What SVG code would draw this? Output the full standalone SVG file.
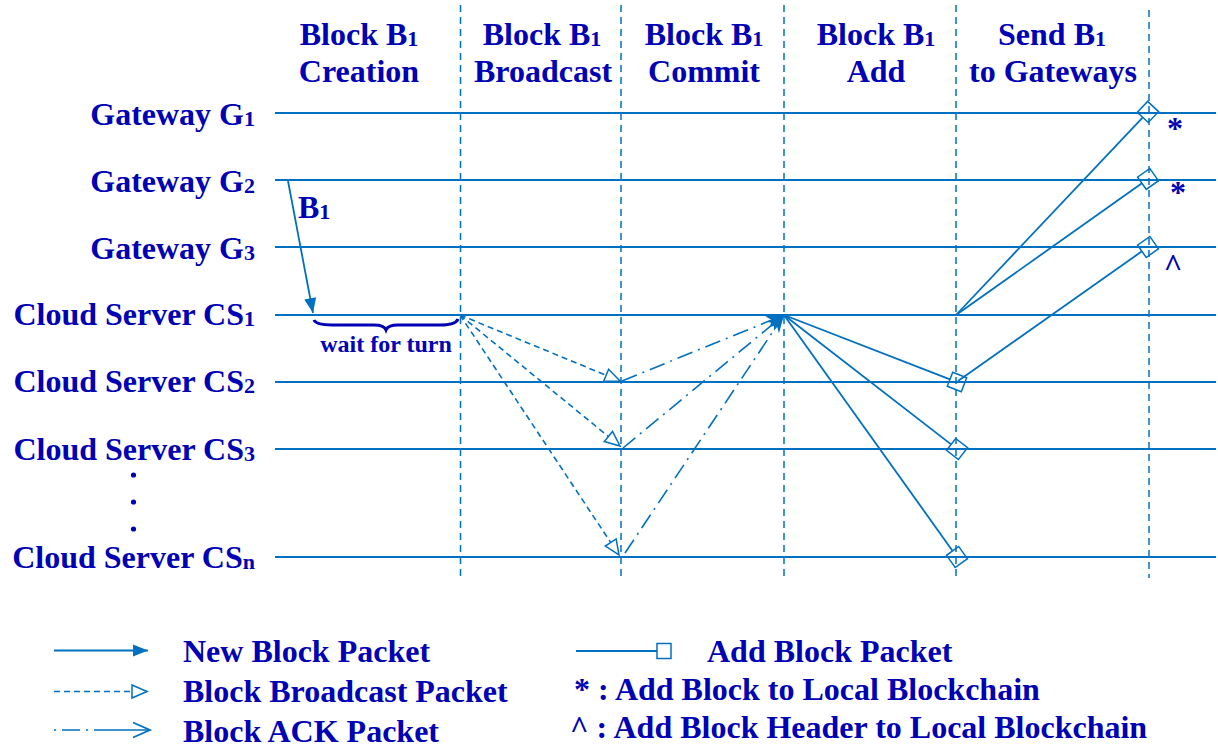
<svg xmlns="http://www.w3.org/2000/svg" width="1218" height="749" viewBox="0 0 1218 749">
<style>
text{font-family:"Liberation Serif","Times New Roman",serif;font-weight:bold;fill:#0000B4;font-size:32px}
.sub{font-size:22px}
.mid{text-anchor:middle}
.end{text-anchor:end}
.life{stroke:#0070C0;stroke-width:2;fill:none}
.phase{stroke:#0070C0;stroke-width:1.5;stroke-dasharray:7 5;fill:none}
.solid{stroke:#0070C0;stroke-width:1.8;fill:none}
.bcast{stroke:#0070C0;stroke-width:1.6;stroke-dasharray:6 4;fill:none}
.ack{stroke:#0070C0;stroke-width:1.6;stroke-dasharray:16 6 2 6;fill:none}
.dot{fill:#0000B4}
</style>
<defs>
<marker id="mNew" markerUnits="userSpaceOnUse" markerWidth="16" markerHeight="14" refX="15" refY="6" orient="auto" overflow="visible">
<path d="M0,0 L15,6 L0,12 z" fill="#0070C0"/>
</marker>
<marker id="mTri" markerUnits="userSpaceOnUse" markerWidth="18" markerHeight="16" refX="16" refY="7" orient="auto" overflow="visible">
<path d="M1,0.5 L16,7 L1,13.5 z" fill="#fff" stroke="#0070C0" stroke-width="1.5"/>
</marker>
<marker id="mAck" markerUnits="userSpaceOnUse" markerWidth="20" markerHeight="14" refX="18" refY="6" orient="auto" overflow="visible">
<path d="M0,0 L18,6 L0,12 L5,6 z" fill="#0070C0"/>
</marker>
<marker id="mAckOpen" markerUnits="userSpaceOnUse" markerWidth="20" markerHeight="18" refX="17" refY="7.5" orient="auto" overflow="visible">
<path d="M0,0 L17,7.5 L0,15" fill="none" stroke="#0070C0" stroke-width="1.8"/>
</marker>
<marker id="mSq" markerUnits="userSpaceOnUse" markerWidth="18" markerHeight="18" refX="0" refY="7.5" orient="auto" overflow="visible">
<path d="M0,0 H15 V15 H0 z" fill="none" stroke="#0070C0" stroke-width="1.5"/>
</marker>
</defs>

<g id="phases">
<line class="phase" x1="460.5" y1="5" x2="460.5" y2="578"/>
<line class="phase" x1="621" y1="5" x2="621" y2="578"/>
<line class="phase" x1="784" y1="5" x2="784" y2="578"/>
<line class="phase" x1="956" y1="5" x2="956" y2="578"/>
<line class="phase" x1="1149" y1="10" x2="1149" y2="578"/>
</g>

<g id="headers">
<text class="mid" x="359" y="45">Block B<tspan class="sub" dy="1">1</tspan></text>
<text class="mid" x="359" y="82">Creation</text>
<text class="mid" x="542" y="45">Block B<tspan class="sub" dy="1">1</tspan></text>
<text class="mid" x="543" y="82">Broadcast</text>
<text class="mid" x="704" y="45">Block B<tspan class="sub" dy="1">1</tspan></text>
<text class="mid" x="704" y="82">Commit</text>
<text class="mid" x="876" y="45">Block B<tspan class="sub" dy="1">1</tspan></text>
<text class="mid" x="876" y="82">Add</text>
<text class="mid" x="1052" y="45">Send B<tspan class="sub" dy="1">1</tspan></text>
<text class="mid" x="1053" y="82">to Gateways</text>
</g>

<g id="node-G1"><line class="life" x1="275" y1="113" x2="1216" y2="113"/><text class="end" x="255" y="125">Gateway G<tspan class="sub" dy="1">1</tspan></text></g>
<g id="node-G2"><line class="life" x1="275" y1="180" x2="1216" y2="180"/><text class="end" x="255" y="192">Gateway G<tspan class="sub" dy="1">2</tspan></text></g>
<g id="node-G3"><line class="life" x1="275" y1="247" x2="1216" y2="247"/><text class="end" x="255" y="259">Gateway G<tspan class="sub" dy="1">3</tspan></text></g>
<g id="node-CS1"><line class="life" x1="275" y1="315" x2="1216" y2="315"/><text class="end" x="255" y="325">Cloud Server CS<tspan class="sub" dy="1">1</tspan></text></g>
<g id="node-CS2"><line class="life" x1="275" y1="382" x2="1216" y2="382"/><text class="end" x="255" y="392">Cloud Server CS<tspan class="sub" dy="1">2</tspan></text></g>
<g id="node-CS3"><line class="life" x1="275" y1="449" x2="1216" y2="449"/><text class="end" x="255" y="460">Cloud Server CS<tspan class="sub" dy="1">3</tspan></text></g>
<g id="dots">
<circle class="dot" cx="133.5" cy="475" r="2.6"/>
<circle class="dot" cx="133.5" cy="502" r="2.6"/>
<circle class="dot" cx="133.5" cy="529" r="2.6"/>
</g>
<g id="node-CSn"><line class="life" x1="275" y1="557" x2="1216" y2="557"/><text class="end" x="255" y="568">Cloud Server CS<tspan class="sub" dy="1">n</tspan></text></g>

<g id="connectors">
<line class="solid" x1="288" y1="181" x2="313" y2="313" marker-end="url(#mNew)"/>
<text x="298" y="218">B<tspan class="sub" dy="1">1</tspan></text>
<path d="M314,320 Q316,325 332,325 L374,325 Q384,325 386,330 Q388,325 398,325 L440,325 Q456,325 458,319" fill="none" stroke="#0000B4" stroke-width="3"/>
<text class="mid" x="386" y="352" style="font-size:24px">wait for turn</text>

<line class="bcast" x1="460" y1="315" x2="620" y2="381" marker-end="url(#mTri)"/>
<line class="bcast" x1="460" y1="315" x2="620" y2="446" marker-end="url(#mTri)"/>
<line class="bcast" x1="460" y1="315" x2="619" y2="555" marker-end="url(#mTri)"/>

<line class="ack" x1="622" y1="381" x2="784" y2="315" marker-end="url(#mAck)"/>
<line class="ack" x1="623" y1="448" x2="784" y2="315" marker-end="url(#mAck)"/>
<line class="ack" x1="625" y1="553" x2="784" y2="315" marker-end="url(#mAck)"/>

<line class="solid" x1="784" y1="315" x2="950" y2="379.3" marker-end="url(#mSq)"/>
<line class="solid" x1="784" y1="315" x2="951.1" y2="444.4" marker-end="url(#mSq)"/>
<line class="solid" x1="784" y1="315" x2="952.6" y2="550.9" marker-end="url(#mSq)"/>

<line class="solid" x1="956" y1="315" x2="1142.8" y2="117.4" marker-end="url(#mSq)"/>
<line class="solid" x1="956" y1="315" x2="1141.9" y2="183.3" marker-end="url(#mSq)"/>
<line class="solid" x1="958" y1="381" x2="1141.9" y2="251.3" marker-end="url(#mSq)"/>

<text class="mid" x="1175" y="139">*</text>
<text class="mid" x="1178" y="203">*</text>
<text class="mid" x="1173" y="276">^</text>
</g>

<g id="legend">
<line class="solid" x1="54" y1="650.5" x2="148" y2="650.5" marker-end="url(#mNew)"/>
<text x="183" y="662">New Block Packet</text>
<line class="bcast" x1="54" y1="691.5" x2="147" y2="691.5" marker-end="url(#mTri)"/>
<text x="183" y="702">Block Broadcast Packet</text>
<line class="ack" x1="54" y1="730" x2="150" y2="730" style="stroke-dasharray:2 6 18 6 2 6 60 0" marker-end="url(#mAckOpen)"/>
<text x="183" y="742">Block ACK Packet</text>
<line class="solid" x1="576" y1="651" x2="657" y2="651"/>
<rect x="657" y="643.5" width="14" height="15" fill="none" stroke="#0070C0" stroke-width="1.5"/>
<text x="707" y="662">Add Block Packet</text>
<text x="574" y="700">* : Add Block to Local Blockchain</text>
<text x="570" y="738">^ : Add Block Header to Local Blockchain</text>
</g>
</svg>
